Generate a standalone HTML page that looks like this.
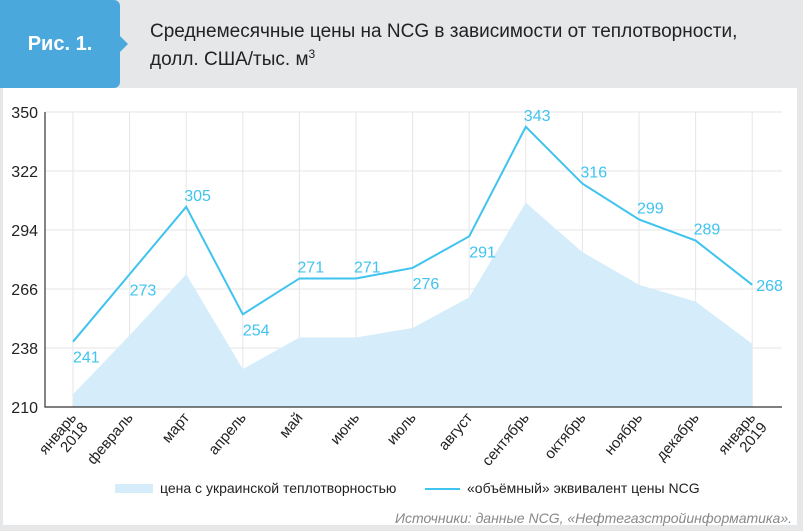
<!DOCTYPE html>
<html><head><meta charset="utf-8"><style>
body{margin:0;width:803px;height:531px;background:#e6e7e9;font-family:"Liberation Sans",sans-serif;overflow:hidden;position:relative}
#tag{position:absolute;left:0;top:0;width:120px;height:88px;background:#4aa8dc;border-radius:0 6px 6px 0;color:#fff;font-weight:bold;font-size:20px;line-height:88px;text-align:center}
#tag:after{content:"";position:absolute;right:-8px;top:36px;border-left:8px solid #4aa8dc;border-top:8px solid transparent;border-bottom:8px solid transparent}
#title{position:absolute;left:150px;top:18px;font-size:19px;line-height:28px;color:#222}
#title sup{font-size:12px;line-height:0;vertical-align:7px}
#panel{position:absolute;left:3px;top:88px;width:794px;height:437px;background:#fff}
svg{position:absolute;left:0;top:0}
</style></head><body>
<div id="tag">Рис. 1.</div>
<div id="title">Среднемесячные цены на NCG в зависимости от теплотворности,<br>долл. США/тыс. м<sup>3</sup></div>
<div id="panel"></div>
<svg id="chart" width="803" height="531"></svg>
<script>
const categories=["январь 2018","февраль","март","апрель","май","июнь","июль","август","сентябрь","октябрь","ноябрь","декабрь","январь 2019"];
const areaValues=[216,244,273,228,243,243,247.5,262,307,283.5,268,260,240];
const lineValues=[241,273,305,254,271,271,276,291,343,316,299,289,268];
const yTicks=[210,238,266,294,322,350];
const labelPos=["b","b","a","b","a","a","b","b","a","a","a","a","r"];
const NS="http://www.w3.org/2000/svg",svg=document.getElementById('chart');
const x=i=>73+i*56.6, y=v=>407-(v-210)*(295/140);
function mk(t,a,p){const e=document.createElementNS(NS,t);for(const k in a)e.setAttribute(k,a[k]);(p||svg).appendChild(e);return e;}
yTicks.forEach(t=>{
 const g=mk('line',{x1:45,x2:782,y1:y(t),y2:y(t),stroke:'#e6e6e6'});
 
 
 const l=mk('text',{x:38,y:y(t)+6,'text-anchor':'end','font-size':16,fill:'#222'});l.textContent=t;
 
 
});
categories.forEach((c,i)=>{
 const g=mk('line',{x1:x(i),x2:x(i),y1:y(350),y2:407,stroke:'#e6e6e6'});
 
 
 const parts=c.split(' ');
 const t=mk('text',{transform:`translate(${x(i)+4},418) rotate(-50)`,'text-anchor':'end','font-size':15,fill:'#222'});
 parts.forEach((p,j)=>{const s=mk('tspan',{x:0,dy:j?15:0},t);s.textContent=p;});
 
 
});
let d=`M${x(0)},407 `+areaValues.map((v,i)=>`L${x(i)},${y(v)}`).join(' ')+` L${x(12)},407Z`;
const area=mk('path',{d,fill:'#d5ecfa'});


const ax=mk('path',{d:'M45,112V407H782',stroke:'#333',fill:'none','stroke-width':1.2});


const line=mk('polyline',{points:lineValues.map((v,i)=>x(i)+','+y(v)).join(' '),fill:'none',stroke:'#3fc3ef','stroke-width':2});


lineValues.forEach((v,i)=>{
 const p=labelPos[i];
 const t=mk('text',{x:p=='a'?x(i)-2:p=='r'?x(i)+4:x(i),y:p=='a'?y(v)-6:p=='r'?y(v)+6:y(v)+21,'font-size':16,fill:'#3fc3ef'});
 t.textContent=v;
 
 
});
const l1=mk('rect',{x:115,y:484,width:38,height:9,fill:'#d5ecfa'});


const t1=mk('text',{x:160,y:493,'font-size':14,fill:'#222'});t1.textContent='цена с украинской теплотворностью';


const l2=mk('line',{x1:425,x2:460,y1:489,y2:489,stroke:'#3fc3ef','stroke-width':2});


const t2=mk('text',{x:467,y:493,'font-size':14,fill:'#222'});t2.textContent='«объёмный» эквивалент цены NCG';


const src=mk('text',{x:792,y:523,'text-anchor':'end','font-size':14,'font-style':'italic',fill:'#888'});src.textContent='Источники: данные NCG, «Нефтегазстройинформатика».';


</script>
</body></html>
